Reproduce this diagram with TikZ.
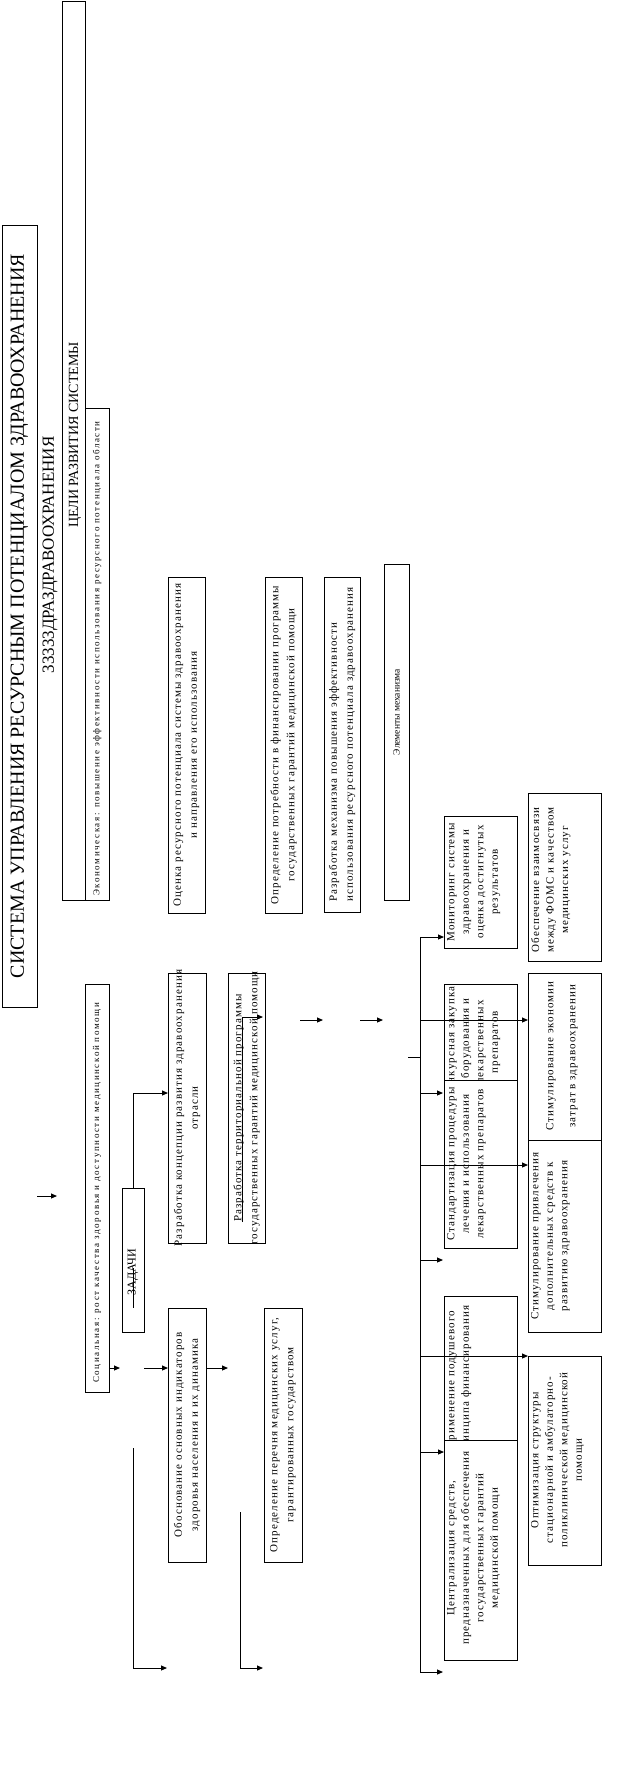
\documentclass[tikz,border=0pt]{standalone}
\usepackage{fontspec}
\setmainfont{Liberation Serif}
\newfontfamily\spfont[LetterSpace=10]{Liberation Serif}
\newfontfamily\tinyspfont[LetterSpace=18]{Liberation Serif}
\usetikzlibrary{arrows.meta}
\begin{document}
\begin{tikzpicture}[x=1pt,y=-1pt,
  box/.style={draw, line width=1pt, fill=white, inner sep=0pt, outer sep=0pt},
  rt/.style={rotate=90, inner sep=0pt, align=center},
  mid/.style={rt, font={\spfont\fontsize{11}{16}\selectfont}},
  rcol/.style={rt, anchor=north, font={\spfont\fontsize{11}{14.5}\selectfont}},
  tiny/.style={rt, anchor=west, font={\tinyspfont\fontsize{9}{11}\selectfont}},
  arr/.style={-{Triangle[length=6pt,width=5pt]}, line width=1pt},
  ln/.style={line width=1pt}]
\useasboundingbox (0,0) rectangle (625,1777);
\fill[white] (0,0) rectangle (625,1777);

% left header boxes
\node[box, minimum width=35, minimum height=782] (title) at (19.5,616) {};
\node[rt, font=\fontsize{20}{24}\selectfont] (titlet) at (title.center) {СИСТЕМА УПРАВЛЕНИЯ РЕСУРСНЫМ ПОТЕНЦИАЛОМ ЗДРАВООХРАНЕНИЯ};
\node[rt, font=\fontsize{17}{20}\selectfont] (sub) at (50,555) {33333ДРАЗДРАВООХРАНЕНИЯ};
\node[box, minimum width=23, minimum height=898] (goals) at (73.5,451) {};
\node[rt, font=\fontsize{14}{16}\selectfont] (goalst) at (75,435) {ЦЕЛИ РАЗВИТИЯ СИСТЕМЫ};
\node[box, minimum width=24, minimum height=492] (econ) at (97,654) {};
\node[tiny] (econt) at (97,896) {Экономическая: повышение эффективности использования ресурсного потенциала области};
\node[box, minimum width=24, minimum height=408] (soc) at (97,1188) {};
\node[tiny] (soct) at (97,1383) {Социальная: рост качества здоровья и доступности медицинской помощи};

% middle column boxes
\node[box, minimum width=37, minimum height=336] (ocen) at (186.5,745) {};
\node[mid] (ocent) at (ocen.center) {Оценка ресурсного потенциала системы здравоохранения\\и направления его использования};
\node[box, minimum width=37, minimum height=336] (potr) at (283.5,745) {};
\node[mid] (potrt) at (potr.center) {Определение потребности в финансировании программы\\государственных гарантий медицинской помощи};
\node[box, minimum width=36, minimum height=335] (meh) at (342,744.5) {};
\node[mid, align=left] (meht) at (meh.center) {Разработка механизма повышения эффективности\\использования ресурсного потенциала здравоохранения};
\node[box, minimum width=25, minimum height=336] (elem) at (396.5,732) {};
\node[rt, font=\fontsize{9.5}{11}\selectfont] (elemt) at (396.5,712) {Элементы механизма};

\node[box, minimum width=38, minimum height=270] (konc) at (187,1108) {};
\node[mid] (konct) at (konc.center) {Разработка концепции развития здравоохранения\\отрасли};
\node[box, minimum width=37, minimum height=270] (terr) at (246.5,1108) {};
\node[mid] (terrt) at (terr.center) {Разработка территориальной программы\\государственных гарантий медицинской помощи};
\node[box, minimum width=22, minimum height=144] (zad) at (133,1260) {};
\node[rt, font=\fontsize{12}{14}\selectfont] (zadt) at (133,1272) {ЗАДАЧИ};
\node[box, minimum width=38, minimum height=254] (obos) at (187,1435) {};
\node[mid] (obost) at (obos.center) {Обоснование основных индикаторов\\здоровья населения и их динамика};
\node[box, minimum width=38, minimum height=254] (per) at (283,1435) {};
\node[mid] (pert) at (per.center) {Определение перечня медицинских услуг,\\гарантированных государством};

% right columns
\node[box, minimum width=73, minimum height=132] (mon) at (480.5,882) {};
\node[rcol] (mont) at (447,882) {Мониторинг системы\\здравоохранения и\\оценка достигнутых\\результатов};
\node[box, minimum width=73, minimum height=116] (konk) at (480.5,1042) {};
\node[rcol] (konkt) at (447,1042) {Конкурсная закупка\\оборудования и\\лекарственных\\препаратов};
\node[box, minimum width=73, minimum height=168] (stand) at (480.5,1164) {};
\node[rcol] (standt) at (447,1164) {Стандартизация процедуры\\лечения и использования\\лекарственных препаратов};
\node[box, minimum width=73, minimum height=174] (prim) at (480.5,1383) {};
\node[rcol] (primt) at (447,1380) {Применение подушевого\\принципа финансирования};
\node[box, minimum width=73, minimum height=220] (centr) at (480.5,1550) {};
\node[rcol] (centrt) at (447,1548) {Централизация средств,\\предназначенных для обеспечения\\государственных гарантий\\медицинской помощи};

\node[box, minimum width=73, minimum height=168] (obesp) at (564.5,877) {};
\node[rcol] (obespt) at (531,880) {Обеспечение взаимосвязи\\между ФОМС и качеством\\медицинских услуг};
\node[box, minimum width=73, minimum height=167] (ekon) at (564.5,1056.5) {};
\node[rt, font={\spfont\fontsize{11}{22}\selectfont}] (ekont) at (562,1056) {Стимулирование экономии\\затрат в здравоохранении};
\node[box, minimum width=73, minimum height=192] (privl) at (564.5,1236) {};
\node[rcol] (privlt) at (531,1236) {Стимулирование привлечения\\дополнительных средств к\\развитию здравоохранения};
\node[box, minimum width=73, minimum height=209] (opt) at (564.5,1460.5) {};
\node[rcol] (optt) at (531,1460) {Оптимизация структуры\\стационарной и амбулаторно-\\поликлинической медицинской\\помощи};

% coordinates of free connector ends
\coordinate (a0s) at (37,1196);   \coordinate (a0e) at (57,1196);
\coordinate (e1) at (133,1093);
\coordinate (zl1) at (133,1268);  \coordinate (zl2) at (133,1308);
\coordinate (b1s) at (133,1448);  \coordinate (b1c) at (133,1668); \coordinate (b1e) at (167,1668);
\coordinate (b2s) at (240,1512);  \coordinate (b2c) at (240,1668); \coordinate (b2e) at (263,1668);
\coordinate (s1e) at (120,1368);  \coordinate (s2s) at (144,1368); \coordinate (s3e) at (228,1368);
\coordinate (t1s) at (242,1222);  \coordinate (t1c) at (242,1017); \coordinate (t1e) at (263,1017);
\coordinate (f1s) at (300,1020);  \coordinate (f1e) at (323,1020);
\coordinate (f2s) at (360,1020);  \coordinate (f2e) at (383,1020);
\coordinate (sp0) at (420,937);   \coordinate (sp9) at (420,1672);
\coordinate (stub) at (408,1057);

% connectors
\draw[arr] (a0s) -- (a0e);
\draw[arr] (zad.north) -- (e1) -- (e1 -| konc.west);
\draw[ln] (zl1) -- (zl2);
\draw[arr] (b1s) -- (b1c) -- (b1e);
\draw[arr] (b2s) -- (b2c) -- (b2e);
\draw[arr] (soc.east |- s1e) -- (s1e);
\draw[arr] (s2s) -- (s2s -| obos.west);
\draw[arr] (obos.east |- s3e) -- (s3e);
\draw[arr] (t1s) -- (t1c) -- (t1e);
\draw[arr] (f1s) -- (f1e);
\draw[arr] (f2s) -- (f2e);

\draw[ln] (sp0) -- (sp9);
\draw[ln] (stub) -- (stub -| sp0);
\draw[arr] (sp0) -- (sp0 -| mon.west);
\draw[arr] (420,1020) -- (420,1020 -| ekon.west);
\draw[arr] (420,1093) -- (443,1093);
\draw[arr] (420,1165) -- (420,1165 -| privl.west);
\draw[arr] (420,1260) -- (443,1260);
\draw[arr] (420,1356) -- (420,1356 -| opt.west);
\draw[arr] (420,1452) -- (420,1452 -| centr.west);
\draw[arr] (sp9) -- (443,1672);
\end{tikzpicture}
\end{document}
